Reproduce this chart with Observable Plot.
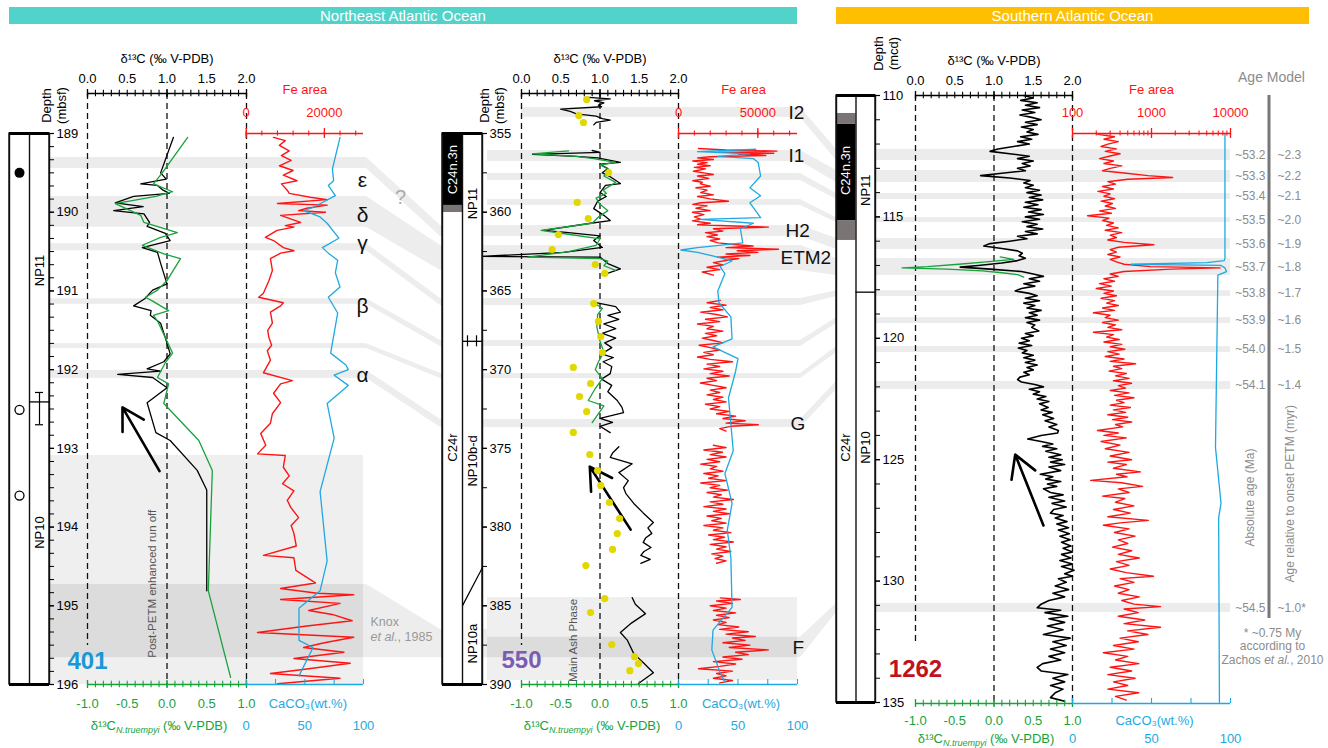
<!DOCTYPE html>
<html><head><meta charset="utf-8">
<script src="https://cdn.jsdelivr.net/npm/d3@7"></script>
<script src="https://cdn.jsdelivr.net/npm/@observablehq/plot@0.6"></script>
<style>
html,body{margin:0;padding:0;background:#fff;}
#stage{position:relative;width:1328px;height:748px;overflow:hidden;font-family:"Liberation Sans",Arial,sans-serif;}
#stage svg{position:absolute;left:0;top:0;overflow:visible;max-width:none!important;background:transparent!important;}
.hdr{position:absolute;top:7px;height:17px;color:#fff;font-size:15px;line-height:17px;text-align:center;}
</style></head><body>
<div id="stage">
  <div class="hdr" style="left:9px;width:788px;background:#52D3CA">Northeast Atlantic Ocean</div>
  <div class="hdr" style="left:836px;width:473px;background:#FDBF00">Southern Atlantic Ocean</div>
</div>
<script>
// ======================= DATA =======================
// ---- Site 401 : [depth (mbsf), value]
const s401_bulk = [[189.05,1.08],[189.50,0.92],[189.58,0.99],[189.64,0.67],[189.66,0.88],[189.72,0.95],[189.76,1.03],[189.80,0.58],[189.88,0.35],[189.93,0.70],[189.98,0.33],[190.02,0.71],[190.13,0.78],[190.18,0.75],[190.27,0.98],[190.36,1.04],[190.45,0.69],[190.51,0.88],[190.65,0.92],[190.91,1.00],[190.99,0.82],[191.10,0.72],[191.19,0.58],[191.25,0.80],[191.31,0.79],[191.41,0.92],[191.60,0.98],[191.80,1.04],[191.90,0.96],[191.99,0.75],[192.02,0.92],[192.06,0.38],[192.10,0.82],[192.23,1.00],[192.42,0.75],[192.80,0.86],[192.90,1.04],[193.28,1.38],[193.53,1.50],[194.81,1.50]];
const s401_ntru = [[189.05,0.26],[189.50,-0.06],[189.64,-0.17],[189.74,0.07],[189.80,-0.14],[189.89,-0.65],[190.04,-0.33],[190.13,-0.29],[190.26,0.13],[190.32,-0.08],[190.42,-0.31],[190.53,-0.04],[190.59,0.17],[190.87,0.00],[190.99,-0.12],[191.08,-0.27],[191.13,-0.18],[191.25,0.02],[191.31,-0.17],[191.40,-0.11],[191.79,0.07],[191.91,-0.02],[192.10,-0.12],[192.18,0.02],[192.43,-0.04],[192.90,0.40],[193.28,0.57],[194.81,0.52],[195.91,0.80]];
const s401_fe = [[189.05,7000],[189.09,10000],[189.15,8500],[189.22,11000],[189.28,9000],[189.34,11500],[189.41,8500],[189.47,12000],[189.53,9500],[189.60,13000],[189.64,9000],[189.72,10500],[189.76,11000],[189.81,16400],[189.84,20700],[189.89,8000],[189.91,20700],[189.95,15500],[189.98,13400],[190.00,20300],[190.04,8800],[190.13,13900],[190.17,10000],[190.19,12200],[190.23,7900],[190.32,4900],[190.36,7000],[190.45,9500],[190.49,12200],[190.52,8800],[190.59,6200],[190.74,6700],[190.87,5800],[191.03,4400],[191.08,3200],[191.15,9500],[191.19,8800],[191.27,6200],[191.41,6700],[191.50,5500],[191.59,5800],[191.69,6500],[191.76,5400],[191.88,6200],[192.04,4400],[192.14,11800],[192.18,8800],[192.30,7000],[192.42,8800],[192.56,6700],[192.68,6200],[192.81,3700],[192.96,5000],[193.07,2900],[193.09,10000],[193.24,9500],[193.35,11000],[193.45,9300],[193.54,12200],[193.66,10500],[193.75,11400],[193.88,13400],[193.98,11500],[194.08,12200],[194.24,12800],[194.36,4400],[194.39,12200],[194.55,12700],[194.71,17700],[194.78,8800],[194.84,18200],[194.86,27500],[194.92,8800],[194.97,24000],[195.06,16000],[195.11,22000],[195.19,27100],[195.26,15000],[195.34,2900],[195.40,27500],[195.47,20000],[195.53,14700],[195.59,25000],[195.67,12200],[195.73,26600],[195.80,16000],[195.86,6200],[195.92,24000],[195.99,8000]];
const s401_caco3 = [[189.05,80],[189.45,73.5],[189.60,74.5],[189.66,70],[189.79,76],[189.94,57],[189.98,49],[190.06,63],[190.14,69],[190.33,79],[190.45,65],[190.52,70],[190.61,78],[190.77,76],[190.95,80],[191.08,70],[191.28,78],[191.79,72],[191.94,85],[192.00,87],[192.07,75],[192.20,87],[192.43,69],[192.87,75],[193.55,63],[194.43,69],[194.81,63],[195.03,45],[195.44,45],[195.53,57],[195.89,45]];
const s401_bands = [[189.305,189.445],[189.80,190.19],[190.40,190.49],[191.10,191.17],[191.67,191.73],[192.01,192.11]];
const s401_runoff = [[193.09,196.0]];
const s401_knox = [[194.73,195.66]];
const s401_events = ["ε","δ","γ","β","α"];
const s401_eventDepth = [189.60,190.04,190.39,191.19,192.07];
const s401_arrow = [[0.906,193.29,0.44,192.48]];

// ---- Site 550
const s550_bulk_1 = [[352.70,0.85],[352.80,1.13],[352.92,0.93],[353.05,1.05],[353.20,0.98],[353.30,1.02],[353.45,0.50],[353.60,0.62],[353.75,0.70],[353.90,0.95],[354.05,1.03],[354.15,1.13],[354.30,0.95],[354.45,0.92]];
const s550_bulk_2 = [[356.08,0.90],[356.20,1.00],[356.33,0.14],[356.45,0.69],[356.55,0.97],[356.84,1.26],[356.95,1.00],[357.22,1.10],[357.50,1.03],[357.75,1.13],[358.18,1.26],[358.30,1.07],[358.75,1.00],[359.00,1.08],[359.30,0.97],[359.77,0.92],[360.20,1.05],[360.53,1.13],[360.70,0.88],[361.16,0.28],[361.30,0.60],[361.50,1.00],[361.80,0.92],[362.24,1.03],[362.55,0.54],[362.81,-0.52],[362.85,1.00],[363.26,1.10],[363.60,1.26],[364.00,1.03]];
const s550_bulk_3 = [[365.70,0.90],[366.00,1.20],[366.35,1.26],[366.55,1.10],[366.80,1.24],[367.10,1.05],[367.40,1.20],[367.70,1.03],[368.00,1.20],[368.30,1.06],[368.60,1.15],[369.00,1.02],[369.23,1.17],[369.50,1.04],[369.80,1.15],[370.25,1.13],[370.60,1.02],[371.00,1.15],[371.40,1.10],[371.96,1.22],[372.40,1.28],[372.73,1.30],[373.10,1.00],[373.35,1.16],[373.60,1.00],[374.00,1.13]];
const s550_bulk_4 = [[374.90,1.24],[375.30,1.16],[375.58,1.13],[375.98,1.41],[376.54,1.24],[377.05,1.36],[377.50,1.30],[377.87,1.33],[378.50,1.43],[379.10,1.55],[379.71,1.68],[380.05,1.61],[380.40,1.66],[380.70,1.58],[380.97,1.55],[381.30,1.65],[381.55,1.56],[381.80,1.52],[382.05,1.64],[382.30,1.52]];
const s550_bulk_5 = [[384.48,1.41],[384.90,1.45],[385.50,1.58],[386.10,1.40],[386.70,1.26],[387.20,1.35],[388.04,1.43],[388.60,1.55],[389.25,1.68],[389.94,1.49]];
const s550_ntru_1 = [[356.10,-0.40],[356.30,-0.86],[356.45,-0.30],[356.60,-0.08],[356.84,0.20],[357.00,0.00],[357.30,0.12],[357.70,0.05],[358.10,0.20],[358.60,0.04],[358.80,0.08],[359.10,-0.05],[359.50,0.00],[359.90,0.10],[360.30,-0.02],[360.70,-0.10],[361.16,-0.75],[361.40,-0.40],[361.70,0.00],[362.10,-0.05],[362.50,-0.40],[362.85,-0.92],[362.95,0.00],[363.10,0.10],[363.40,0.05],[363.70,0.20]];
const s550_ntru_2 = [[365.70,-0.10],[366.10,0.03],[366.50,-0.03],[367.30,-0.04],[368.20,0.00],[368.90,0.05],[369.50,-0.02],[370.00,-0.06],[370.57,0.03],[371.20,-0.06],[371.96,-0.15],[372.30,0.05],[373.36,-0.10]];
const s550_cib = [[352.84,-0.17],[353.86,-0.27],[354.30,-0.21],[357.48,0.11],[359.38,-0.29],[360.40,-0.15],[361.42,-0.53],[362.37,-0.61],[363.32,-0.06],[363.89,0.06],[365.80,-0.08],[366.94,-0.02],[367.90,0.01],[368.91,0.03],[369.86,-0.34],[370.88,-0.12],[371.71,-0.26],[372.66,-0.17],[373.99,-0.34],[375.39,-0.13],[376.41,-0.03],[377.36,0.01],[378.44,0.12],[379.46,0.25],[380.41,0.22],[381.42,0.16],[382.44,-0.18],[384.54,0.06],[385.43,-0.12],[387.46,0.15],[388.23,0.44],[388.67,0.49],[389.12,0.38]];
const s550_fe_1 = [[355.95,12600],[356.05,30000],[356.12,62000],[356.18,25000],[356.25,60000],[356.32,38000],[356.40,55000],[356.48,20000],[356.55,12000],[356.65,22000],[356.75,9000],[356.85,18000],[356.95,12000],[357.05,20000],[357.15,10000],[357.25,17000],[357.40,9400],[357.50,16000],[357.60,22000],[357.70,12000],[357.85,19000],[358.00,9000],[358.10,15000],[358.20,13800],[358.35,20000],[358.45,11000],[358.60,18000],[358.75,14000],[358.90,22000],[359.00,12000],[359.15,20000],[359.30,31500],[359.40,14000],[359.50,9000],[359.60,18000],[359.75,11000],[359.90,20000],[360.00,8800],[360.15,16000],[360.30,10000],[360.45,14000],[360.55,8800],[360.70,20000],[360.80,12000],[360.95,56600],[361.05,22000],[361.20,28000],[361.30,17000],[361.45,24500],[361.55,18000],[361.70,26000],[361.80,20000],[361.95,25000],[362.05,35000],[362.15,47000],[362.25,30000],[362.35,63000],[362.45,37000],[362.55,50000],[362.65,30000],[362.75,45000],[362.85,24500],[362.95,38000],[363.05,30800],[363.20,22000],[363.35,28000],[363.50,18000],[363.65,26000],[363.80,15000],[364.00,22000]];
const s550_fe_2 = [[365.60,26400],[365.75,18000],[365.90,30000],[366.05,20000],[366.20,28000],[366.35,14000],[366.50,24000],[366.65,30800],[366.80,17000],[366.95,26000],[367.10,12000],[367.25,22000],[367.40,18000],[367.55,28000],[367.70,17000],[367.85,24000],[368.00,15000],[368.15,22000],[368.30,28000],[368.45,13000],[368.60,20000],[368.75,26000],[368.90,16000],[369.05,22000],[369.20,12000],[369.35,20000],[369.50,34000],[369.65,18000],[369.80,26000],[369.95,16000],[370.10,28000],[370.25,20000],[370.40,32000],[370.55,18000],[370.70,24000],[370.85,13800],[371.00,22000],[371.15,30000],[371.30,20000],[371.45,26000],[371.60,18000],[371.75,28000],[371.90,22000],[372.05,30000],[372.20,17000],[372.35,26000],[372.50,20000],[372.65,32000],[372.80,24000],[372.95,36000],[373.10,28000],[373.25,42000],[373.40,30000],[373.50,50300],[373.60,33000],[373.75,26000],[373.90,30000]];
const s550_fe_3 = [[374.80,22000],[374.95,30000],[375.10,16000],[375.25,27700],[375.40,20000],[375.55,30000],[375.70,18000],[375.85,26000],[376.00,14000],[376.15,24000],[376.30,20000],[376.45,28000],[376.60,16000],[376.75,25000],[376.90,19000],[377.05,30000],[377.20,14000],[377.35,26000],[377.50,20000],[377.65,31000],[377.80,18000],[377.95,27000],[378.10,22000],[378.25,34600],[378.40,20000],[378.55,28000],[378.70,16000],[378.85,30000],[379.00,22000],[379.15,32000],[379.30,18000],[379.45,27000],[379.60,21000],[379.75,30000],[379.90,16000],[380.05,28000],[380.20,22000],[380.35,33000],[380.50,19000],[380.65,29000],[380.80,22000],[380.95,34600],[381.10,20000],[381.25,30000],[381.40,24000],[381.55,33000],[381.70,21000],[381.85,28000],[382.00,23000],[382.15,30000],[382.30,24000]];
const s550_fe_4 = [[384.50,26400],[384.60,39000],[384.70,24000],[384.85,34000],[385.00,20000],[385.15,30000],[385.30,22000],[385.45,36000],[385.60,24000],[385.75,32000],[385.90,22000],[386.05,30000],[386.20,25000],[386.35,38000],[386.50,26000],[386.65,44000],[386.80,30000],[386.95,48400],[387.05,34000],[387.20,42000],[387.35,28000],[387.50,45000],[387.65,32000],[387.80,56600],[387.95,36000],[388.10,44000],[388.25,28000],[388.40,40000],[388.55,22000],[388.70,36000],[388.85,26000],[389.00,12600],[389.15,34000],[389.30,24000],[389.45,30000],[389.60,22000],[389.75,34000],[389.90,26000]];
const s550_caco3 = [[356.00,65],[356.15,16],[356.30,60],[356.45,33],[356.60,63],[356.85,67],[357.70,69],[358.45,60],[358.95,69],[359.40,60],[360.35,69],[360.45,18],[360.70,63],[361.05,52],[361.95,54],[362.25,16],[362.40,2],[362.55,16],[362.85,33],[363.10,45],[363.45,35],[363.90,39],[365.00,33],[365.75,34],[366.65,44],[368.05,45],[368.55,29],[369.30,50],[370.10,48],[371.80,42],[373.45,44],[375.15,46],[376.60,39],[378.50,45],[380.20,41],[381.95,44],[385.10,45],[386.55,29],[387.80,28],[389.25,35],[389.85,39]];
const s550_bandsTop = [[353.35,353.98]];
const s550_bands = [[356.08,356.78],[357.54,357.99],[359.19,359.57],[360.85,361.54],[362.12,363.70],[365.48,365.93],[368.15,368.53],[370.25,370.57],[373.17,373.68]];
const s550_ash = [[384.48,389.75]];
const s550_ashCore = [[387.0,388.3]];
const s550_events = ["I2","I1","H2","ETM2","G","F"];
const s550_eventDepth = [353.67,356.43,361.20,362.90,373.42,387.65];
const s550_arrow = [[1.39,380.16,0.87,376.16]];

// ---- Site 1262 : [depth (mcd), value]
const s1262_bulk = [[110.00,1.38],[110.10,1.50],[110.20,1.34],[110.30,1.55],[110.40,1.40],[110.50,1.58],[110.60,1.36],[110.70,1.52],[110.80,1.33],[110.90,1.48],[111.00,1.60],[111.10,1.40],[111.20,1.55],[111.30,1.35],[111.40,1.50],[111.50,1.42],[111.60,1.56],[111.70,1.34],[111.80,1.48],[111.90,1.30],[112.00,1.45],[112.10,1.25],[112.20,1.05],[112.30,0.95],[112.40,1.20],[112.50,1.45],[112.60,1.30],[112.70,1.50],[112.80,1.36],[112.90,1.46],[113.00,1.30],[113.10,1.40],[113.20,1.10],[113.30,0.83],[113.40,1.20],[113.50,1.46],[113.60,1.38],[113.70,1.50],[113.80,1.40],[113.90,1.58],[114.00,1.42],[114.10,1.60],[114.20,1.45],[114.30,1.62],[114.40,1.40],[114.50,1.56],[114.60,1.38],[114.70,1.60],[114.80,1.44],[114.90,1.63],[115.00,1.40],[115.10,1.58],[115.20,1.36],[115.30,1.55],[115.40,1.42],[115.50,1.62],[115.60,1.40],[115.70,1.55],[115.80,1.30],[115.90,1.42],[116.00,1.20],[116.10,0.95],[116.20,0.87],[116.30,1.10],[116.40,1.30],[116.50,1.36],[116.60,1.32],[116.70,1.40],[116.80,1.30],[116.90,1.10],[117.00,0.80],[117.07,0.57],[117.15,0.95],[117.25,1.35],[117.35,1.50],[117.45,1.63],[117.55,1.45],[117.65,1.58],[117.75,1.38],[117.85,1.52],[117.95,1.35],[118.05,1.27],[118.15,1.45],[118.25,1.55],[118.35,1.40],[118.45,1.58],[118.55,1.38],[118.65,1.52],[118.75,1.42],[118.85,1.60],[118.95,1.45],[119.05,1.55],[119.15,1.40],[119.25,1.58],[119.35,1.42],[119.45,1.52],[119.55,1.48],[119.70,1.57],[119.80,1.40],[119.90,1.50],[120.00,1.35],[120.10,1.45],[120.20,1.32],[120.30,1.48],[120.40,1.31],[120.50,1.42],[120.60,1.36],[120.70,1.50],[120.80,1.38],[120.90,1.52],[121.00,1.40],[121.10,1.55],[121.20,1.42],[121.30,1.50],[121.40,1.38],[121.50,1.45],[121.60,1.33],[121.70,1.30],[121.80,1.35],[121.90,1.52],[122.00,1.63],[122.10,1.45],[122.20,1.58],[122.30,1.50],[122.40,1.66],[122.50,1.55],[122.60,1.70],[122.70,1.58],[122.85,1.69],[122.95,1.60],[123.05,1.74],[123.15,1.62],[123.30,1.76],[123.40,1.65],[123.55,1.80],[123.65,1.70],[123.80,1.82],[123.90,1.81],[124.00,1.60],[124.15,1.43],[124.25,1.60],[124.35,1.75],[124.45,1.62],[124.55,1.80],[124.65,1.66],[124.80,1.85],[124.90,1.70],[125.00,1.87],[125.10,1.72],[125.20,1.90],[125.30,1.70],[125.45,1.85],[125.60,1.59],[125.70,1.75],[125.80,1.66],[125.90,1.85],[126.00,1.68],[126.10,1.80],[126.20,1.63],[126.35,1.72],[126.45,1.88],[126.55,1.70],[126.70,1.90],[126.80,1.74],[126.95,1.92],[127.05,1.76],[127.20,1.72],[127.30,1.88],[127.40,1.78],[127.55,1.93],[127.65,1.80],[127.80,1.95],[127.90,1.82],[128.05,1.96],[128.15,1.84],[128.30,1.97],[128.40,1.86],[128.55,1.98],[128.65,1.88],[128.80,2.00],[128.90,1.86],[129.05,1.98],[129.15,1.84],[129.30,2.00],[129.40,1.86],[129.55,2.02],[129.70,1.90],[129.80,2.00],[129.90,1.82],[130.05,1.92],[130.20,1.78],[130.35,1.95],[130.50,1.75],[130.65,1.90],[130.80,1.70],[130.95,1.60],[131.10,1.55],[131.20,1.85],[131.30,1.65],[131.45,1.94],[131.55,1.70],[131.70,1.90],[131.85,1.68],[132.00,1.88],[132.20,1.63],[132.35,1.97],[132.50,1.75],[132.65,1.92],[132.80,1.72],[132.95,1.90],[133.10,1.70],[133.25,1.85],[133.40,1.62],[133.55,1.55],[133.70,1.60],[133.85,1.94],[134.00,1.75],[134.15,1.90],[134.30,1.72],[134.45,1.88],[134.60,1.78],[134.80,1.72],[134.95,1.90]];
const s1262_ntru = [[116.65,0.08],[116.75,0.25],[116.85,-0.10],[116.95,-0.45],[117.05,-0.85],[117.10,-1.17],[117.15,-0.60],[117.22,-0.15],[117.30,0.10],[117.38,0.30],[117.48,0.38]];
const s1262_fe = [[111.56,300],[111.60,210],[111.70,340],[111.80,250],[111.90,380],[112.00,280],[112.10,230],[112.20,360],[112.30,260],[112.40,400],[112.50,290],[112.60,220],[112.70,330],[112.80,250],[112.90,420],[113.00,300],[113.10,240],[113.20,480],[113.30,900],[113.38,1850],[113.45,500],[113.55,280],[113.65,350],[113.75,240],[113.85,330],[113.95,210],[114.05,300],[114.15,250],[114.25,340],[114.35,230],[114.45,320],[114.55,260],[114.65,350],[114.75,220],[114.85,310],[114.95,155],[115.05,290],[115.15,240],[115.25,330],[115.35,270],[115.45,380],[115.55,260],[115.65,420],[115.75,300],[115.85,360],[115.95,280],[116.05,450],[116.15,1070],[116.25,380],[116.35,300],[116.45,360],[116.55,280],[116.65,400],[116.75,300],[116.85,360],[116.95,450],[117.05,970],[117.10,7400],[117.15,1800],[117.25,450],[117.35,300],[117.45,380],[117.55,250],[117.65,340],[117.75,220],[117.85,310],[117.95,200],[118.05,330],[118.15,250],[118.25,360],[118.35,230],[118.45,340],[118.55,270],[118.65,380],[118.75,240],[118.85,340],[118.95,184],[119.05,300],[119.15,260],[119.25,380],[119.35,240],[119.45,350],[119.55,280],[119.65,420],[119.75,184],[119.85,330],[119.95,270],[120.05,390],[120.15,250],[120.25,420],[120.35,300],[120.45,460],[120.55,280],[120.65,390],[120.75,260],[120.85,450],[120.95,300],[121.05,630],[121.15,330],[121.25,420],[121.35,290],[121.45,480],[121.55,350],[121.65,520],[121.75,330],[121.85,560],[121.95,380],[122.05,470],[122.15,300],[122.25,520],[122.35,340],[122.45,600],[122.55,360],[122.65,450],[122.75,300],[122.85,540],[122.95,330],[123.05,470],[123.15,280],[123.25,500],[123.35,320],[123.45,560],[123.55,350],[123.65,430],[123.80,207],[123.90,380],[124.00,250],[124.10,480],[124.25,230],[124.40,400],[124.55,260],[124.70,520],[124.85,300],[125.00,560],[125.10,280],[125.20,480],[125.35,330],[125.50,725],[125.60,360],[125.70,490],[125.85,170],[125.95,420],[126.10,770],[126.20,380],[126.35,520],[126.50,240],[126.60,460],[126.75,350],[126.90,600],[127.05,330],[127.20,540],[127.35,280],[127.50,910],[127.60,400],[127.70,246],[127.85,520],[128.00,340],[128.15,620],[128.30,380],[128.45,500],[128.60,320],[128.75,560],[128.90,380],[129.05,700],[129.20,360],[129.35,520],[129.50,300],[129.65,480],[129.80,1060],[129.90,400],[130.05,600],[130.20,340],[130.35,520],[130.50,380],[130.65,700],[130.80,420],[130.95,600],[131.05,1300],[131.15,450],[131.30,680],[131.45,380],[131.60,820],[131.75,450],[131.90,1300],[132.05,500],[132.20,900],[132.35,400],[132.50,680],[132.65,330],[132.80,600],[132.95,246],[133.10,500],[133.25,350],[133.40,690],[133.55,300],[133.70,560],[133.85,280],[134.00,620],[134.15,330],[134.30,500],[134.45,280],[134.60,690],[134.75,350],[134.90,480]];
const s1262_caco3 = [[111.56,96.5],[116.70,96.5],[116.80,96],[116.88,85],[116.95,37],[117.00,94],[117.10,96.5],[117.25,97.5],[117.40,92],[124.50,90.5],[126.80,94],[127.40,92.5],[135.00,93]];
const s1262_bands = [[112.22,112.68],[113.09,113.58],[114.04,114.28],[115.03,115.23],[115.89,116.34],[116.71,117.41],[118.04,118.28],[119.15,119.39],[120.34,120.59],[121.78,122.11],[130.92,131.29]];
const s1262_ageAbs = ["~53.2","~53.3","~53.4","~53.5","~53.6","~53.7","~53.8","~53.9","~54.0","~54.1","~54.5"];
const s1262_ageRel = ["~2.3","~2.2","~2.1","~2.0","~1.9","~1.8","~1.7","~1.6","~1.5","~1.4","~1.0*"];
const s1262_arrow = [[1.63,127.71,1.27,124.79]];

// ---- correlations between sites: [depthA1, depthA2, depthB1, depthB2]
const corr_401_550 = [[189.305,189.445,360.85,361.54],[189.80,190.19,362.12,363.70],[190.40,190.49,365.48,365.93],[191.10,191.17,368.15,368.53],[191.67,191.73,370.25,370.57],[192.01,192.11,373.17,373.68],[194.73,195.66,386.5,388.3]];
const corr_550_1262 = [[353.35,353.98,112.22,112.68],[356.08,356.78,113.09,113.58],[357.54,357.99,114.04,114.28],[359.19,359.57,115.03,115.23],[360.85,361.54,115.89,116.34],[362.12,363.70,116.71,117.41],[365.48,365.93,118.04,118.28],[368.15,368.53,119.15,119.39],[370.25,370.57,120.34,120.59],[373.17,373.68,121.78,122.11],[387.0,388.3,130.92,131.29]];

// ======================= LAYOUT / STYLE =======================
const W = 1328, H = 748;
const FONT = '"Liberation Sans", Arial, Helvetica, sans-serif';
const GREEN = "#17A23A", RED = "#FF1414", BLUE = "#1DA9E2", YEL = "#E2D800";
const BAND = "#ECECEC", BLOCK_L = "#EFEFEF", BLOCK_D = "#DCDCDC", CONN = "#EDEDED", GRAYT = "#8C8C8C";
const stage = document.getElementById("stage");

function richify(svg) {
  svg.querySelectorAll("text").forEach(t => {
    const nodes = t.querySelectorAll("tspan").length ? [...t.querySelectorAll("tspan")] : [t];
    nodes.forEach(n => {
      const s = n.textContent;
      if (!/[§¦]/.test(s)) return;
      n.textContent = "";
      let it = false, sub = false, wasSub = false;
      for (const p of s.split(/([§¦])/)) {
        if (p === "§") { it = !it; continue; }
        if (p === "¦") { sub = !sub; continue; }
        if (!p) continue;
        const ts = document.createElementNS("http://www.w3.org/2000/svg", "tspan");
        ts.textContent = p;
        if (it || sub) ts.setAttribute("font-style", "italic");
        if (sub) { ts.setAttribute("font-size", "9"); ts.setAttribute("dy", "3"); }
        else if (wasSub) ts.setAttribute("dy", "-3");
        wasSub = sub;
        n.append(ts);
      }
    });
  });
}
function layer({frame = [0, W, 0, H], x, y, marks}) {
  const o = {width: W, height: H, marginLeft: frame[0], marginRight: W - frame[1], marginTop: frame[2], marginBottom: H - frame[3],
    style: {background: "transparent", fontFamily: FONT, fontSize: "13px", overflow: "visible"}, marks};
  if (x) o.x = {axis: null, ...x};
  if (y) o.y = {axis: null, ...y};
  const svg = Plot.plot(o);
  richify(svg);
  stage.append(svg);
  return svg;
}
function hAxis({x0, x1, ay, type = "linear", domain, color, ticks = [], majors = [], minLen = 3, majLen = 4, dir = "both", labels = [], labelDy, fmt = String, extra = []}) {
  const sp = l => dir === "up" ? [-l, 0] : dir === "down" ? [0, l] : [-l, l];
  const a = sp(minLen), b = sp(majLen);
  return layer({frame: [x0, x1, ay - 20, ay + 20], x: {type, domain, range: [x0, x1]}, y: {domain: [-20, 20], range: [ay - 20, ay + 20]},
    marks: [
      Plot.ruleY([0], {x1: () => domain[0], x2: () => domain[1], stroke: color, strokeWidth: 1.3}),
      Plot.ruleX(ticks, {x: d => d, y1: () => a[0], y2: () => a[1], stroke: color, strokeWidth: 1.1}),
      Plot.ruleX(majors, {x: d => d, y1: () => b[0], y2: () => b[1], stroke: color, strokeWidth: 1.3}),
      Plot.text(labels, {x: d => d, y: () => labelDy, text: fmt, fill: color, fontSize: 13}),
      ...extra]});
}
const rng = (a, b, s) => d3.range(a, b + s / 2, s).map(v => +v.toFixed(4));
const f1 = d => d.toFixed(1);
const seriesLine = (arr, stroke, w = 1.3) => Plot.line(arr, {x: d => d[1], y: d => d[0], stroke, strokeWidth: w, strokeLinejoin: "round"});

function drawSite(P) {
  const Y = {domain: P.depth, range: P.yr};
  const ys = d3.scaleLinear(P.depth, P.yr);
  P.bandLayers.forEach(b => layer({frame: [b.x0, b.x1, 0, H], y: Y, marks: b.marks}));
  const dTop = ys.invert(P.top), dBot = ys.invert(P.bot), dLeft = ys.invert(P.dashLeftEnd);
  layer({x: {domain: [0, 2], range: P.c13}, y: Y, marks: [
    Plot.ruleX([0], {y1: () => dTop, y2: () => dLeft, stroke: "#111", strokeWidth: 1.3, strokeDasharray: "6,4"}),
    Plot.ruleX([1, 2], {y1: () => dTop, y2: () => dBot, stroke: "#111", strokeWidth: 1.3, strokeDasharray: "6,4"}),
    ...P.bulk.map(s => seriesLine(s, "#000", P.bulkW || 1.3)),
    Plot.arrow(P.arrow, {x1: d => d[0], y1: d => d[1], x2: d => d[2], y2: d => d[3], stroke: "#000", strokeWidth: 2.6, headLength: 15}),
    ...P.c13Extra]});
  layer({x: {domain: [-1, 1], range: P.c13}, y: Y, marks: [
    ...P.ntru.map(s => seriesLine(s, GREEN, 1.3)),
    ...(P.cib ? [Plot.dot(P.cib, {x: d => d[1], y: d => d[0], r: 3.6, fill: YEL})] : [])]});
  layer({x: {type: P.feType, domain: P.feDom, range: P.fe}, y: Y, marks: P.feS.map(s => seriesLine(s, RED, 1.4))});
  layer({x: {domain: [0, 100], range: P.fe}, y: Y, marks: [seriesLine(P.caco3, BLUE, 1.3)]});
  const [d0, d1] = P.depth;
  layer({frame: [P.col[0], P.col[1], P.yr[0], P.yr[1]], x: {domain: [0, 2], range: P.col}, y: Y, marks: [
    Plot.rect([0], {x1: () => 0, x2: () => 2, y1: () => d0, y2: () => d1, fill: "white", stroke: "#000", strokeWidth: 1.3}),
    Plot.rect(P.chronBlack, {x1: () => 0, x2: () => 1, y1: d => d[0], y2: d => d[1], fill: "#000"}),
    Plot.rect(P.chronGray, {x1: () => 0, x2: () => 1, y1: d => d[0], y2: d => d[1], fill: "#7a7474"}),
    Plot.ruleX([0, 1, 2], {y1: () => d0, y2: () => d1, stroke: "#111", strokeWidth: 1.4}),
    Plot.ruleY([d0, d1], {x1: () => 0, x2: () => 2, stroke: "#000", strokeWidth: 2.8}),
    Plot.text(P.colText, {x: d => d[0], y: d => d[1], text: d => d[2], fill: d => d[3], rotate: -90, fontSize: 13}),
    ...P.colExtra]});
  layer({frame: [P.col[1], P.col[1] + 5, P.yr[0], P.yr[1]], y: Y, marks: [
    Plot.ruleY(P.depthMinor, {stroke: "#000", strokeWidth: 1}),
    Plot.ruleY(P.depthMajor, {stroke: "#000", strokeWidth: 1.2}),
    Plot.text(P.depthMajor, {y: d => d, text: d => String(d), frameAnchor: "right", textAnchor: "start", dx: 2, fontSize: 13}),
    Plot.text([P.depthTitle], {y: () => ys.invert(P.depthTitleY), text: d => d, frameAnchor: "right", textAnchor: "middle", dx: P.depthTitleDx, rotate: -90, lineAnchor: "middle", lineHeight: 1.2, fontSize: 13})]});
  hAxis({x0: P.c13[0], x1: P.c13[1], ay: P.top, domain: [0, 2], color: "#000", ticks: rng(0, 2, 0.1), majors: [0, 1, 2], minLen: 3.2, majLen: 4, labels: [0, 0.5, 1, 1.5, 2], labelDy: -15, fmt: f1,
    extra: [Plot.text([1], {x: d => d, y: () => -35, text: () => "δ¹³C (‰ V-PDB)", fontSize: 13})]});
  hAxis({x0: P.fe[0], x1: P.fe[1], ay: P.feAxis, type: P.feType, domain: P.feDom, color: RED, ticks: P.feTicks, majors: P.feMajors, minLen: 2.6, majLen: 5, labels: P.feLabels, labelDy: -21, fmt: String,
    extra: [Plot.text([P.feTitleAt], {x: d => d, y: () => -44, text: () => "Fe area", fill: RED, fontSize: 13})]});
  hAxis({x0: P.c13[0], x1: P.c13[1], ay: P.botG, domain: [-1, 1], color: GREEN, ticks: rng(-1, 1, 0.1), majors: [-1, 0, 1], minLen: 3.2, majLen: 4, labels: [-1, -0.5, 0, 0.5, 1], labelDy: P.line1, fmt: f1,
    extra: [Plot.text([0], {x: d => d, y: () => P.line2, dx: -8, text: () => "δ¹³C¦N.truempyi¦ (‰ V-PDB)", fill: GREEN, fontSize: 13})]});
  hAxis({x0: P.fe[0], x1: P.fe[1], ay: P.botC, domain: [0, 100], color: BLUE, ticks: [0, 25, 50, 75, 100], majors: [], minLen: 5, dir: "up", labels: [0, 50, 100], labelDy: P.line2, fmt: String,
    extra: [Plot.text([50], {x: d => d, y: () => P.line1, dx: 3, text: () => "CaCO₃(wt.%)", fill: BLUE, fontSize: 13})]});
  return ys;
}

// ---------- Site 401 ----------
const P401 = {
  depth: [189, 196], yr: [133, 684], col: [9, 49], c13: [87, 246], top: 93, bot: 684, dashLeftEnd: 645,
  fe: [245.7, 363], feType: "linear", feDom: [0, 30000], feAxis: 133, feTicks: rng(0, 28000, 4000), feMajors: [0, 20000], feLabels: [0, 20000], feTitleAt: 15000,
  botG: 684, botC: 684, line1: 19, line2: 41,
  bulk: [s401_bulk], ntru: [s401_ntru], feS: [s401_fe], caco3: s401_caco3, arrow: s401_arrow,
  depthMajor: rng(189, 196, 1), depthMinor: d3.range(189, 196.001, 1 / 6), depthTitle: "Depth\n(mbsf)", depthTitleY: 105, depthTitleDx: -1,
  chronBlack: [], chronGray: [],
  colText: [[1.5, 190.74, "NP11", "#000"], [1.5, 194.07, "NP10", "#000"]],
  colExtra: [
    Plot.dot([189.5], {x: () => 0.5, y: d => d, r: 5, fill: "#000"}),
    Plot.dot([192.51, 193.60], {x: () => 0.5, y: d => d, r: 4.5, fill: "white", stroke: "#000", strokeWidth: 1.3}),
    Plot.ruleY([192.41], {x1: () => 1, x2: () => 2, stroke: "#000", strokeWidth: 1.3}),
    Plot.ruleX([1.5], {y1: () => 192.29, y2: () => 192.70, stroke: "#000", strokeWidth: 1.2}),
    Plot.ruleY([192.29, 192.70], {x1: () => 1.3, x2: () => 1.7, stroke: "#000", strokeWidth: 1.2})],
  c13Extra: [
    Plot.text(["401"], {x: () => 0, y: () => 195.70, text: d => d, fill: "#1B97D5", fontWeight: "bold", fontSize: 24}),
    Plot.text(["Post-PETM enhanced run off"], {x: () => 0.82, y: () => 194.72, text: d => d, rotate: -90, fill: "#555", fontSize: 11.5})],
  bandLayers: [{x0: 49, x1: 363, marks: [
    Plot.rect(s401_runoff, {y1: d => d[0], y2: d => d[1], fill: BLOCK_L}),
    Plot.rect(s401_knox, {y1: d => d[0], y2: d => d[1], fill: BLOCK_D}),
    Plot.rect(s401_bands, {y1: d => d[0], y2: d => d[1], fill: BAND}),
    Plot.text(s401_events, {y: (d, i) => s401_eventDepth[i], text: d => d, frameAnchor: "right", textAnchor: "middle", dx: -1, fontSize: 21, fill: "#111"}),
    Plot.text(["?"], {y: () => 189.82, text: d => d, frameAnchor: "right", textAnchor: "middle", dx: 37, fontSize: 20, fill: "#aaa"}),
    Plot.text(["Knox", "§et al.§, 1985"], {y: (d, i) => [195.21, 195.40][i], text: d => d, frameAnchor: "right", textAnchor: "start", dx: 7, fontSize: 12.5, fill: "#999"})]}]
};
const y401 = drawSite(P401);

// ---------- Site 550 ----------
const P550 = {
  depth: [355, 390], yr: [133, 684], col: [442, 482], c13: [521, 678], top: 93, bot: 684, dashLeftEnd: 645,
  fe: [678, 797], feType: "linear", feDom: [0, 75000], feAxis: 133, feTicks: rng(0, 70000, 10000), feMajors: [0, 50000], feLabels: [0, 50000], feTitleAt: 41000,
  botG: 684, botC: 684, line1: 19, line2: 41,
  bulk: [s550_bulk_1, s550_bulk_2, s550_bulk_3, s550_bulk_4, s550_bulk_5], ntru: [s550_ntru_1, s550_ntru_2], cib: s550_cib,
  feS: [s550_fe_1, s550_fe_2, s550_fe_3, s550_fe_4], caco3: s550_caco3, arrow: s550_arrow,
  depthMajor: rng(355, 390, 5), depthMinor: rng(355, 390, 2.5), depthTitle: "Depth\n(mbsf)", depthTitleY: 105, depthTitleDx: 4,
  chronBlack: [[355, 359.57]], chronGray: [[359.57, 360.02]],
  colText: [[0.5, 357.3, "C24n.3n", "#fff"], [0.5, 374.95, "C24r", "#000"], [1.5, 359.45, "NP11", "#000"], [1.5, 375.8, "NP10b-d", "#000"], [1.5, 387.4, "NP10a", "#000"]],
  colExtra: [
    Plot.ruleY([368.2], {x1: () => 1, x2: () => 2, stroke: "#000", strokeWidth: 1.3}),
    Plot.ruleX([1.25, 1.7], {y1: () => 367.85, y2: () => 368.55, stroke: "#000", strokeWidth: 1.2}),
    Plot.link([[2, 382.57, 1, 384.99]], {x1: d => d[0], y1: d => d[1], x2: d => d[2], y2: d => d[3], stroke: "#000", strokeWidth: 1.2})],
  c13Extra: [
    Plot.text(["550"], {x: () => 0, y: () => 388.48, text: d => d, fill: "#7A5CB4", fontWeight: "bold", fontSize: 24}),
    Plot.text(["Main Ash Phase"], {x: () => 0.66, y: () => 387.2, text: d => d, rotate: -90, fill: "#555", fontSize: 11.5})],
  bandLayers: [
    {x0: 521, x1: 797, marks: [Plot.rect(s550_bandsTop, {y1: d => d[0], y2: d => d[1], fill: BAND})]},
    {x0: 487, x1: 797, marks: [
      Plot.rect(s550_ash, {y1: d => d[0], y2: d => d[1], fill: BLOCK_L}),
      Plot.rect(s550_ashCore, {y1: d => d[0], y2: d => d[1], fill: BLOCK_D}),
      Plot.rect(s550_bands, {y1: d => d[0], y2: d => d[1], fill: BAND}),
      ...s550_events.map((e, i) => Plot.text([e], {y: () => s550_eventDepth[i], text: d => d, frameAnchor: "right", textAnchor: "start", dx: [-9, -9, -12, -17, -7, -5][i], fontSize: 19, fill: "#111"}))]}]
};
const y550 = drawSite(P550);

// ---------- Site 1262 ----------
const P1262 = {
  depth: [110, 135], yr: [95, 702], col: [836, 875], c13: [915, 1072], top: 95, bot: 703, dashLeftEnd: 645,
  fe: [1072, 1230], feType: "log", feDom: [100, 10000], feAxis: 133,
  feTicks: [100,200,300,400,500,600,700,800,900,1000,2000,3000,4000,5000,6000,7000,8000,9000,10000], feMajors: [100, 1000, 10000], feLabels: [100, 1000, 10000], feTitleAt: 1000,
  botG: 703, botC: 703, line1: 17, line2: 35, bulkW: 1.6,
  bulk: [s1262_bulk], ntru: [s1262_ntru], feS: [s1262_fe], caco3: s1262_caco3, arrow: s1262_arrow,
  depthMajor: rng(110, 135, 5), depthMinor: rng(110, 135, 1), depthTitle: "Depth\n(mcd)", depthTitleY: 53, depthTitleDx: 5,
  chronBlack: [[111.19, 115.15]], chronGray: [[110.74, 111.19], [115.15, 115.97]],
  colText: [[0.5, 113.09, "C24n.3n", "#fff"], [0.5, 124.5, "C24r", "#000"], [1.5, 113.9, "NP11", "#000"], [1.5, 124.5, "NP10", "#000"]],
  colExtra: [Plot.ruleY([118.1], {x1: () => 1, x2: () => 2, stroke: "#000", strokeWidth: 1.3})],
  c13Extra: [Plot.text(["1262"], {x: () => 0, y: () => 133.64, text: d => d, fill: "#C1121C", fontWeight: "bold", fontSize: 24})],
  bandLayers: [{x0: 877, x1: 1230, marks: [Plot.rect(s1262_bands, {y1: d => d[0], y2: d => d[1], fill: BAND})]}]
};
const y1262 = drawSite(P1262);

// age model column
const ageDepth = s1262_bands.map(b => (b[0] + b[1]) / 2);
layer({frame: [1265, 1277, 95, 702], y: {domain: P1262.depth, range: P1262.yr}, marks: [
  Plot.rect([[110, 131.54]], {y1: d => d[0], y2: d => d[1], insetLeft: 2.5, insetRight: 6.5, fill: "#777"}),
  Plot.text(s1262_ageAbs, {y: (d, i) => ageDepth[i], text: d => d, frameAnchor: "left", textAnchor: "end", fill: GRAYT, fontSize: 12}),
  Plot.text(s1262_ageRel, {y: (d, i) => ageDepth[i], text: d => d, frameAnchor: "right", textAnchor: "start", fill: GRAYT, fontSize: 12}),
  Plot.text(["Age Model"], {y: () => 109.26, text: d => d, frameAnchor: "middle", fill: GRAYT, fontSize: 14}),
  Plot.text(["Absolute age (Ma)"], {y: () => 126.56, text: d => d, frameAnchor: "left", textAnchor: "middle", dx: -15, rotate: -90, fill: GRAYT, fontSize: 12}),
  Plot.text(["Age relative to onset PETM (myr)"], {y: () => 126.4, text: d => d, frameAnchor: "right", textAnchor: "middle", dx: 13, rotate: -90, fill: GRAYT, fontSize: 12}),
  Plot.text(["* ~0.75 My", "according to", "Zachos §et al.§, 2010"], {y: (d, i) => [132.16, 132.69, 133.27][i], text: d => d, frameAnchor: "middle", textAnchor: "middle", dx: 1, fill: GRAYT, fontSize: 12})]});

// correlation connectors (drawn beneath everything)
function connRows(pairs, sa, sb, xs) {
  return pairs.flatMap((c, i) => {
    const a1 = sa(c[0]), a2 = sa(c[1]), b1 = sb(c[2]), b2 = sb(c[3]);
    return [{id: i, x: xs[0], y1: a1, y2: a2}, {id: i, x: xs[1], y1: a1, y2: a2}, {id: i, x: xs[2], y1: b1, y2: b2}, {id: i, x: xs[3], y1: b1, y2: b2}];
  });
}
const rowsA = connRows(corr_401_550, y401, y550, [363, 366, P550.col[0] - 2, 487]);
const rowsB = connRows(corr_550_1262, y550, y1262, [797, 800, P1262.col[0], 877]);
const connSvg = layer({x: {type: "identity"}, y: {type: "identity"}, marks: [
  Plot.areaY(rowsA, {x: "x", y1: "y1", y2: "y2", z: "id", fill: CONN}),
  Plot.areaY(rowsB, {x: "x", y1: "y1", y2: "y2", z: "id", fill: CONN})]});
stage.insertBefore(connSvg, stage.querySelector("svg"));
</script>
</body></html>
